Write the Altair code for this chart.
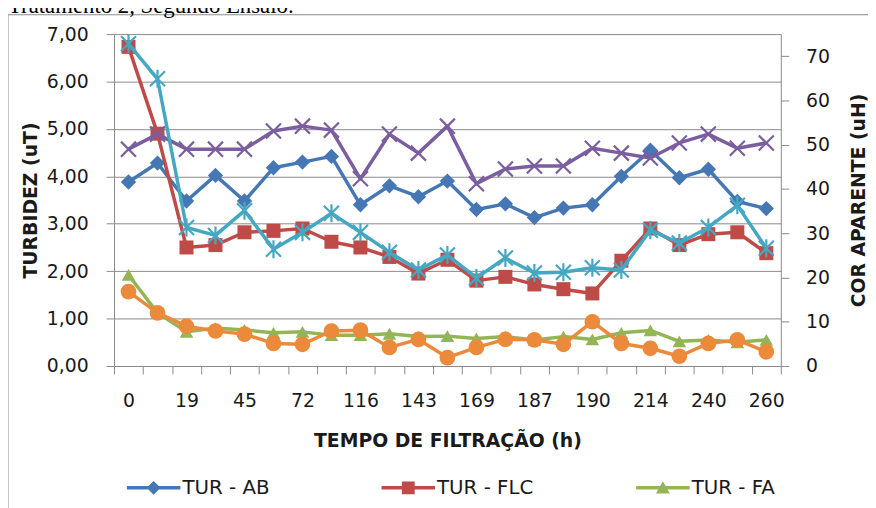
import altair as alt
import pandas as pd

# ---------------- data ----------------
x_labels = ["0", "", "19", "", "45", "", "72", "", "116", "", "143", "", "169", "",
            "187", "", "190", "", "214", "", "240", "", "260"]

tur_ab = [3.88, 4.28, 3.48, 4.02, 3.48, 4.18, 4.30, 4.42, 3.40, 3.80, 3.57, 3.90,
          3.30, 3.42, 3.13, 3.33, 3.40, 4.00, 4.55, 3.97, 4.15, 3.47, 3.32]
tur_flc = [6.73, 4.90, 2.50, 2.55, 2.82, 2.85, 2.90, 2.62, 2.50, 2.30, 1.95, 2.24,
           1.80, 1.88, 1.72, 1.62, 1.53, 2.22, 2.90, 2.55, 2.78, 2.82, 2.38]
tur_fa = [1.92, 1.12, 0.72, 0.80, 0.76, 0.70, 0.72, 0.65, 0.65, 0.68, 0.62, 0.63,
          0.58, 0.62, 0.55, 0.62, 0.56, 0.70, 0.75, 0.52, 0.55, 0.50, 0.55]
cor_ab = [49.0, 52.4, 49.0, 49.0, 49.0, 53.1, 54.2, 53.3, 42.3, 52.4, 48.1, 54.2,
          41.2, 44.5, 45.2, 45.2, 49.2, 48.1, 47.0, 50.4, 52.4, 49.2, 50.4]
cor_flc = [72.8, 64.9, 31.3, 29.5, 35.1, 26.4, 30.2, 34.5, 30.2, 25.7, 21.7, 25.1,
           19.9, 24.4, 21.0, 21.2, 22.2, 21.7, 30.7, 27.8, 31.3, 36.3, 26.6]
cor_fa = [16.8, 12.0, 9.0, 7.9, 7.2, 5.1, 4.9, 7.9, 8.1, 4.2, 6.0, 1.9,
          4.2, 6.0, 5.9, 4.9, 10.0, 5.1, 4.0, 2.2, 5.1, 5.9, 3.2]

series_names = ["TUR - AB", "TUR - FLC", "TUR - FA", "COR - AB", "COR - FLC", "COR - FA"]
series_colors = ["#4677b5", "#be4b48", "#93b556", "#7b5ea0", "#45a8c2", "#ec8a3b"]

left_ticks = [0, 1, 2, 3, 4, 5, 6, 7]
right_ticks = [0, 10, 20, 30, 40, 50, 60, 70]

# ---------------- style ----------------
FONT = "DejaVu Sans"
GRAY = "#8a8a8a"
TXT = "#1a1a1a"
W, H = 673, 335

X_MARK = "M-1,-1L1,1M-1,1L1,-1"
STAR_MARK = "M-1,-1L1,1M-1,1L1,-1M0,-1.2L0,1.2"

LEG_LINE = "M-1,-0.065L1,-0.065L1,0.065L-1,0.065Z"
leg_shapes = [
    LEG_LINE + "M0,-0.26L0.26,0L0,0.26L-0.26,0Z",
    LEG_LINE + "M-0.24,-0.24L0.24,-0.24L0.24,0.24L-0.24,0.24Z",
    LEG_LINE + "M0,-0.25L0.26,0.21L-0.26,0.21Z",
    LEG_LINE + "M-0.2,-0.24L0,-0.04L0.2,-0.24L0.24,-0.2L0.04,0L0.24,0.2L0.2,0.24L0,0.04L-0.2,0.24L-0.24,0.2L-0.04,0L-0.24,-0.2Z",
    LEG_LINE + "M-0.2,-0.24L0,-0.04L0.2,-0.24L0.24,-0.2L0.04,0L0.24,0.2L0.2,0.24L0,0.04L-0.2,0.24L-0.24,0.2L-0.04,0L-0.24,-0.2Z",
    LEG_LINE + "M-0.28,0A0.28,0.28,0,1,1,0.28,0A0.28,0.28,0,1,1,-0.28,0Z",
]

label_array = "[" + ",".join("'" + s + "'" for s in x_labels) + "]"

x_enc = alt.X(
    "idx:O",
    scale=alt.Scale(type="band", paddingInner=0, paddingOuter=0),
    axis=alt.Axis(
        title="TEMPO DE FILTRAÇÃO (h)",
        labelExpr=label_array + "[datum.value]",
        labelAngle=0,
        labelOverlap=False,
        tickBand="extent",
        tickSize=8,
        labelPadding=18,
        titleX=W / 2,
        titleY=75,
        titleBaseline="middle",
        grid=False,
    ),
)

left_axis = alt.Axis(
    orient="left",
    values=left_ticks,
    labelExpr="replace(format(datum.value, '.2f'), '.', ',')",
    title="TURBIDEZ (uT)",
    titleX=-84,
    titleY=H / 2,
    titleBaseline="middle",
    grid=True,
    gridColor=GRAY,
    gridWidth=1,
    tickSize=8,
    labelPadding=18,
)
right_axis = alt.Axis(
    orient="right",
    values=right_ticks,
    title="COR APARENTE (uH)",
    titleAngle=270,
    titleX=78,
    titleY=H / 2,
    titleBaseline="middle",
    grid=False,
    tickSize=8,
    labelPadding=17,
)


def series_layer(values, color, shape, size, filled, yscale, yaxis):
    df = pd.DataFrame({"idx": list(range(len(values))), "value": values})
    base = alt.Chart(df).encode(
        x=x_enc,
        y=alt.Y("value:Q", scale=yscale, axis=yaxis),
    )
    line = base.mark_line(color=color, strokeWidth=3.5, strokeJoin="round")
    if filled:
        pts = base.mark_point(shape=shape, size=size, filled=True, color=color, opacity=1)
    else:
        pts = base.mark_point(shape=shape, size=size, filled=False, color=color,
                              opacity=1, strokeWidth=2.2)
    return [line, pts]


left_scale = alt.Scale(domain=[0, 7], nice=False, zero=True)
right_scale = alt.Scale(domain=[0, 75], nice=False, zero=True)

frame = alt.Chart(pd.DataFrame({"a": [0]})).mark_rect(
    fillOpacity=0, stroke=GRAY, strokeWidth=1
).encode(
    x=alt.value(-107), x2=alt.value(2000), y=alt.value(-19.5), y2=alt.value(2000)
)

doc_text = alt.Chart(pd.DataFrame({"a": [0]})).mark_text(
    align="left", baseline="alphabetic", font="Liberation Serif", fontSize=23, color="black"
).encode(
    x=alt.value(-107), y=alt.value(-21.5), text=alt.value("Tratamento 2, Segundo Ensaio.")
)

legend_def = alt.Legend(
    orient="none",
    legendX=13,
    legendY=431,
    direction="horizontal",
    columns=3,
    symbolSize=2916,
    symbolStrokeWidth=0,
    symbolOpacity=1,
    labelFont=FONT,
    labelFontSize=20,
    labelColor=TXT,
    labelOffset=2,
    columnPadding=100,
    rowPadding=0,
    gridAlign="all",
)
legend_layer = alt.Chart(pd.DataFrame({"series": series_names})).transform_filter(
    "datum.series == 'none'"
).mark_point(filled=True, opacity=1).encode(
    color=alt.Color("series:N", title=None,
                    scale=alt.Scale(domain=series_names, range=series_colors),
                    legend=legend_def),
    shape=alt.Shape("series:N", title=None,
                    scale=alt.Scale(domain=series_names, range=leg_shapes),
                    legend=legend_def),
)

left_layers = []
left_layers += series_layer(tur_ab, series_colors[0], "diamond", 240, True, left_scale, left_axis)
left_layers += series_layer(tur_flc, series_colors[1], "square", 200, True, left_scale, left_axis)
left_layers += series_layer(tur_fa, series_colors[2], "triangle-up", 190, True, left_scale, left_axis)

right_layers = []
right_layers += series_layer(cor_ab, series_colors[3], X_MARK, 230, False, right_scale, right_axis)
right_layers += series_layer(cor_flc, series_colors[4], STAR_MARK, 230, False, right_scale, right_axis)
right_layers += series_layer(cor_fa, series_colors[5], "circle", 250, True, right_scale, right_axis)

left = alt.layer(frame, doc_text, *left_layers, legend_layer)
right = alt.layer(*right_layers)

chart = alt.layer(left, right).resolve_scale(y="independent").properties(
    width=W,
    height=H,
    autosize=alt.AutoSizeParams(type="none"),
    padding={"left": 107, "top": 24, "right": 88, "bottom": 141},
    background="white",
).configure_view(stroke=None).configure_axis(
    labelFont=FONT,
    labelFontSize=19,
    labelColor=TXT,
    titleFont=FONT,
    titleFontSize=19,
    titleFontWeight="bold",
    titleColor=TXT,
    domainColor=GRAY,
    tickColor=GRAY,
    domainWidth=1,
    tickWidth=1,
)

chart.save("out.html", embed_options={"renderer": "svg", "actions": False})
